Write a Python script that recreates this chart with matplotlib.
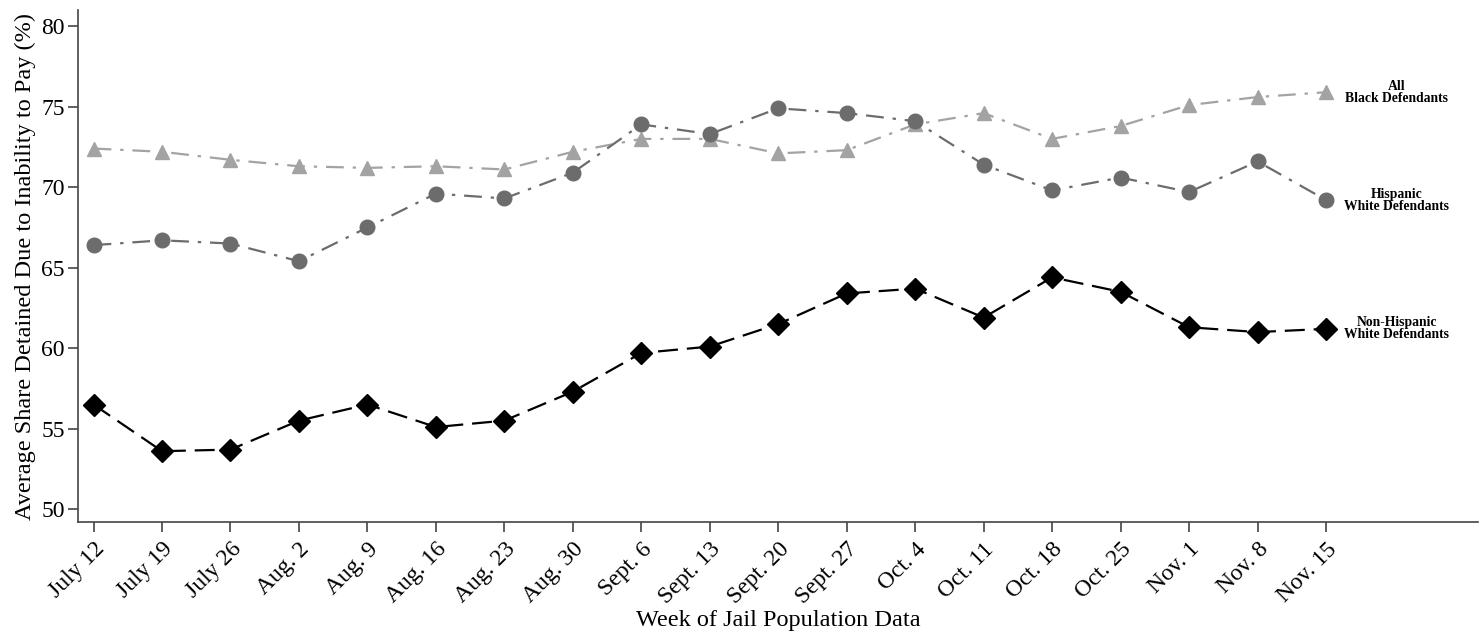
import matplotlib
matplotlib.use('Agg')
import matplotlib.pyplot as plt

# weekly jail population snapshots
weeks = ['July 12', 'July 19', 'July 26', 'Aug. 2', 'Aug. 9', 'Aug. 16', 'Aug. 23',
         'Aug. 30', 'Sept. 6', 'Sept. 13', 'Sept. 20', 'Sept. 27', 'Oct. 4',
         'Oct. 11', 'Oct. 18', 'Oct. 25', 'Nov. 1', 'Nov. 8', 'Nov. 15']

black = [72.4, 72.2, 71.7, 71.3, 71.2, 71.3, 71.1, 72.2, 73.0, 73.0, 72.1, 72.3,
         73.9, 74.6, 73.0, 73.8, 75.1, 75.6, 75.9]
hispanic = [66.4, 66.7, 66.5, 65.4, 67.5, 69.6, 69.3, 70.9, 73.9, 73.3, 74.9, 74.6,
            74.1, 71.4, 69.8, 70.6, 69.7, 71.6, 69.2]
nonhisp = [56.5, 53.6, 53.7, 55.5, 56.5, 55.1, 55.5, 57.3, 59.7, 60.1, 61.5, 63.4,
           63.7, 61.9, 64.4, 63.5, 61.3, 61.0, 61.2]

plt.rcParams['font.family'] = 'Liberation Serif'

fig = plt.figure(figsize=(14.81, 6.32), dpi=100)
ax = fig.add_axes([0.053, 0.174, 0.945, 0.81])

x = list(range(len(weeks)))

ax.plot(x, black, color='#a3a3a3', linestyle=(0, (8, 4, 1.5, 4)), linewidth=1.6,
        marker='^', markersize=10.5, markeredgecolor='#a3a3a3')
ax.plot(x, hispanic, color='#6c6c6c', linestyle=(0, (8, 4, 1.5, 4)), linewidth=1.6,
        marker='o', markersize=10.5, markeredgecolor='#6c6c6c')
ax.plot(x, nonhisp, color='black', linestyle=(0, (9, 4)), linewidth=1.6,
        marker='D', markersize=11)

# right-hand labels
labels = [('All\nBlack Defendants', black[-1]),
          ('Hispanic\nWhite Defendants', hispanic[-1]),
          ('Non-Hispanic\nWhite Defendants', nonhisp[-1])]
for txt, yv in labels:
    ax.annotate(txt, xy=(x[-1], yv), xytext=(51, 0), textcoords='offset points',
                ha='center', va='center', fontsize=9.8, fontweight='bold',
                linespacing=0.9)

ax.set_xlim(-0.22, 20.22)
ax.set_ylim(49.2, 81.0)
ax.set_yticks([50, 55, 60, 65, 70, 75, 80])
ax.set_xticks(x)
ax.set_xticklabels(weeks, rotation=45, ha='right', rotation_mode='anchor')
ax.tick_params(axis='both', labelsize=17, length=7, width=1.2, color='#444444',
               direction='out')
ax.tick_params(axis='y', pad=3)
ax.tick_params(axis='x', pad=5)

for s in ['top', 'right']:
    ax.spines[s].set_visible(False)
for s in ['left', 'bottom']:
    ax.spines[s].set_color('#444444')
    ax.spines[s].set_linewidth(1.2)

ax.set_ylabel('Average Share Detained Due to Inability to Pay (%)', fontsize=17.5,
              labelpad=4)
ax.set_xlabel('Week of Jail Population Data', fontsize=17.5, labelpad=1)

fig.savefig('out.png', dpi=100)
